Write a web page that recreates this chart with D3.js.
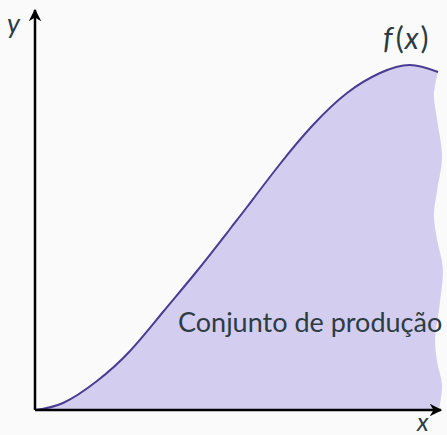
<!DOCTYPE html>
<html>
<head>
<meta charset="utf-8">
<script src="https://cdn.jsdelivr.net/npm/d3@7"></script>
<style>
  body { margin: 0; background: #fafafa; }
  text { font-family: Lato, "Open Sans", sans-serif; fill: #2c3c42; }
</style>
</head>
<body>
<div id="chart"></div>
<script>
// production function f(x) (0..100 units on both axes)
const curveX = [0, 6.91, 15.31, 23.46, 31.6, 40, 48.15, 52.35, 60.49, 68.64, 77.04, 85.19, 92.59, 99.51];
const curveY = [0, 1.75, 7.25, 14.75, 24.5, 34.75, 45.25, 50.75, 61.5, 71.25, 79.25, 84.25, 86.25, 84.5];

// torn right edge of the set
const edgeX = [99.51, 98.5, 99.3, 100.5, 99.3, 98.5, 99.3, 100.7, 100, 98.8, 99.3, 100.5, 99.75];
const edgeY = [84.5, 78.75, 72.5, 63.25, 55, 48.75, 42.5, 35.5, 27, 17.5, 12, 6.25, 0];

const labels = {x: "x", y: "y", set: "Conjunto de produção"};

const width = 447, height = 435;

const svg = d3.select("#chart").append("svg")
    .attr("width", width)
    .attr("height", height);

const x = d3.scaleLinear().domain([0, 100]).range([35, 440]);
const y = d3.scaleLinear().domain([0, 100]).range([410, 10]);

const curvePts = curveX.map((d, i) => [d, curveY[i]]);
const edgePts = edgeX.map((d, i) => [d, edgeY[i]]);

const topLine = d3.line()
    .x(d => x(d[0]))
    .y(d => y(d[1]))
    .curve(d3.curveNatural);

const edgeLine = d3.line()
    .x(d => x(d[0]))
    .y(d => y(d[1]))
    .curve(d3.curveCatmullRom);

// filled region: curve, then wavy edge, back along the x axis
const topPath = topLine(curvePts);
const edgePath = edgeLine(edgePts).replace(/^M/, "L");
svg.append("path")
    .attr("d", topPath + edgePath + "L" + x(0) + "," + y(0) + "Z")
    .attr("fill", "#d3cdf0")
    .attr("stroke", "none");

svg.append("path")
    .attr("d", topPath)
    .attr("fill", "none")
    .attr("stroke", "#4a3c90")
    .attr("stroke-width", 2);

// axes with arrow heads
const defs = svg.append("defs");
defs.append("marker")
    .attr("id", "arrow")
    .attr("viewBox", "0 0 10 10")
    .attr("refX", 9).attr("refY", 5)
    .attr("markerWidth", 5).attr("markerHeight", 5)
    .attr("markerUnits", "strokeWidth")
    .attr("orient", "auto")
    .append("path")
    .attr("d", "M0,0 L10,5 L0,10 L3,5 Z")
    .attr("fill", "#000");

svg.append("line")
    .attr("x1", x(0)).attr("y1", y(0))
    .attr("x2", x(0)).attr("y2", 10)
    .attr("stroke", "#000").attr("stroke-width", 2.5)
    .attr("marker-end", "url(#arrow)");

svg.append("line")
    .attr("x1", x(0)).attr("y1", y(0))
    .attr("x2", 441).attr("y2", y(0))
    .attr("stroke", "#000").attr("stroke-width", 2.5)
    .attr("marker-end", "url(#arrow)");

// labels
svg.append("text")
    .attr("x", 7).attr("y", 33)
    .attr("font-size", 27).attr("font-style", "italic")
    .text(labels.y);

svg.append("text")
    .attr("x", 417).attr("y", 431)
    .attr("font-size", 25).attr("font-style", "italic")
    .text(labels.x);

const fx = svg.append("text")
    .attr("x", 383).attr("y", 49)
    .attr("font-size", 30);
fx.append("tspan").attr("font-style", "italic").text("f");
fx.append("tspan").attr("dx", 3).text("(");
fx.append("tspan").attr("dx", 1).attr("font-style", "italic").text("x");
fx.append("tspan").attr("dx", 2).text(")");

svg.append("text")
    .attr("x", 178).attr("y", 332)
    .attr("font-size", 27)
    .text(labels.set);
</script>
</body>
</html>
